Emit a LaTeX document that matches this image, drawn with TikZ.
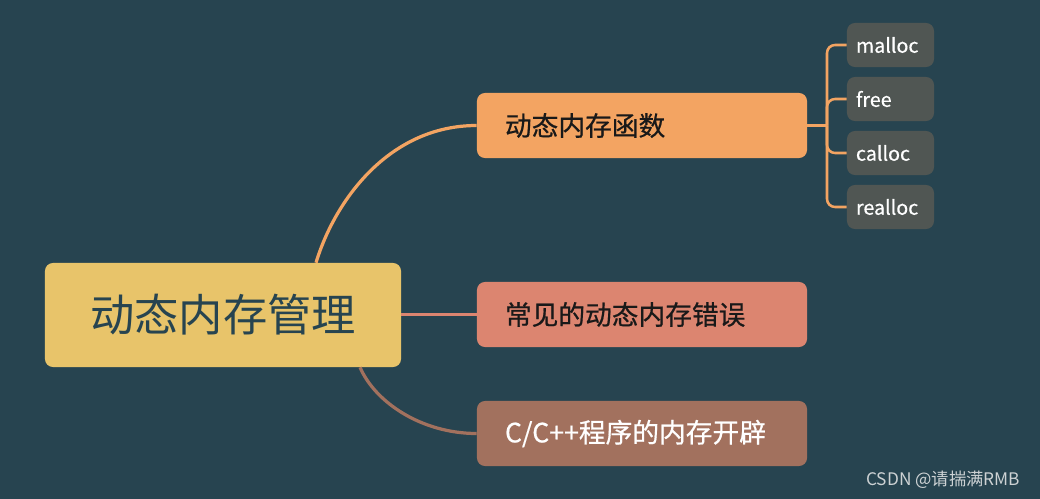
\documentclass[tikz,border=0pt]{standalone}
\usepackage{fontspec}
\setmainfont{Noto Sans CJK SC}
\newfontfamily\heavyfont{Noto Sans CJK SC}[FakeBold=0.6]
\usepackage{tikz}

\definecolor{bgteal}{RGB}{39,68,80}
\definecolor{rootyellow}{RGB}{232,196,106}
\definecolor{fnorange}{RGB}{243,164,98}
\definecolor{errsalmon}{RGB}{220,133,112}
\definecolor{memrust}{RGB}{162,113,94}
\definecolor{leafgray}{RGB}{80,86,83}
\definecolor{textdark}{RGB}{25,25,25}
\definecolor{marklight}{RGB}{205,210,212}

\begin{document}
\begin{tikzpicture}[x=0.025cm, y=-0.025cm,
  topic/.style={rounded corners=0.2cm, minimum width=8.25cm, minimum height=1.625cm,
    text width=6.85cm, inner xsep=0.7cm, align=left, font=\heavyfont\fontsize{19}{22}\selectfont},
  leaf/.style={fill=leafgray, text=white, rounded corners=0.2cm, minimum width=2.175cm,
    minimum height=1.1cm, text width=1.725cm, inner xsep=0.225cm, align=left,
    font=\heavyfont\fontsize{14}{16}\selectfont},
  link/.style={line width=2.3pt}]
  \fill[bgteal] (0,0) rectangle (1040,499);

  \node[fill=rootyellow, text=bgteal, rounded corners=0.2cm, minimum width=8.9cm,
    minimum height=2.6cm, font=\fontsize{31.5}{36}\selectfont] (root) at (223,315) {动态内存管理};
  \node[topic, fill=fnorange, text=textdark] (func) at (642,125.5) {动态内存函数};
  \node[topic, fill=errsalmon, text=textdark] (errs) at (642,314.5) {常见的动态内存错误};
  \node[topic, fill=memrust, text=white] (layout) at (642,433.5) {C/C++程序的内存开辟};
  \foreach \name/\y in {malloc/45, free/99, calloc/153, realloc/207}
    \node[leaf] (\name) at (890.5,\y) {\name};
  \coordinate (fork) at (827,125.5);

  \draw[link, fnorange] ([xshift=2.325cm]root.north) .. controls +(19,-63) and +(-87,0) .. (func.west);
  \draw[link, errsalmon] (root.east |- errs.west) -- (errs.west);
  \draw[link, memrust] ([xshift=3.425cm]root.south) .. controls +(15,35) and +(-55,0) .. (layout.west);
  \draw[link, fnorange] (func.east) -- (fork);
  \foreach \name in {malloc,free,calloc,realloc}
    \draw[line width=1.8pt, fnorange, rounded corners=0.2cm] (fork) |- (\name.west);

  \node[text=marklight, font=\fontsize{12.3}{14}\selectfont, anchor=east] (mark) at (1025,480) {CSDN @请揣满RMB};
\end{tikzpicture}
\end{document}
